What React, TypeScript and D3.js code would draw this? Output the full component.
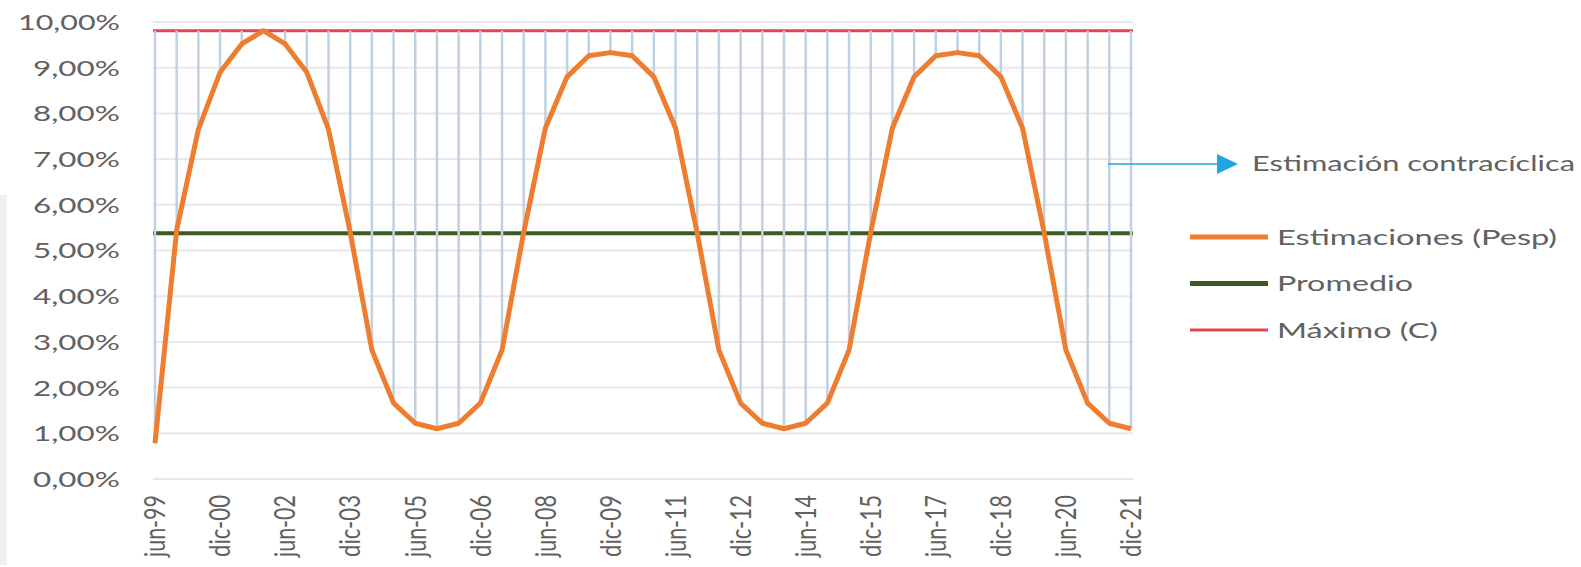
import React from 'react';
import * as d3 from 'd3';

// semestral periods, jun-99 .. dic-21
const periods = [
  'jun-99', 'dic-99', 'jun-00', 'dic-00', 'jun-01', 'dic-01', 'jun-02', 'dic-02',
  'jun-03', 'dic-03', 'jun-04', 'dic-04', 'jun-05', 'dic-05', 'jun-06', 'dic-06',
  'jun-07', 'dic-07', 'jun-08', 'dic-08', 'jun-09', 'dic-09', 'jun-10', 'dic-10',
  'jun-11', 'dic-11', 'jun-12', 'dic-12', 'jun-13', 'dic-13', 'jun-14', 'dic-14',
  'jun-15', 'dic-15', 'jun-16', 'dic-16', 'jun-17', 'dic-17', 'jun-18', 'dic-18',
  'jun-19', 'dic-19', 'jun-20', 'dic-20', 'jun-21', 'dic-21',
];

// Estimaciones (Pesp), in %
const estimaciones = [
  0.78, 5.45, 7.65, 8.9, 9.52, 9.81, 9.52, 8.9, 7.65, 5.4, 2.82, 1.66, 1.22, 1.1, 1.22, 1.66,
  2.82, 5.4, 7.68, 8.8, 9.26, 9.33, 9.26, 8.8, 7.68, 5.38, 2.82, 1.66, 1.22, 1.1, 1.22, 1.66,
  2.82, 5.4, 7.68, 8.8, 9.26, 9.33, 9.26, 8.8, 7.68, 5.38, 2.82, 1.66, 1.22, 1.1,
];

const promedio = 5.38;
const maximo = 9.81;

const xTickLabels = [
  'jun-99', 'dic-00', 'jun-02', 'dic-03', 'jun-05', 'dic-06', 'jun-08', 'dic-09',
  'jun-11', 'dic-12', 'jun-14', 'dic-15', 'jun-17', 'dic-18', 'jun-20', 'dic-21',
];
const yTicks = [0, 1, 2, 3, 4, 5, 6, 7, 8, 9, 10];

const legendItems = [
  { label: 'Estimaciones (Pesp)', color: '#ee7d2f', width: 5, len: 280 },
  { label: 'Promedio', color: '#3a5a1f', width: 5, len: 136 },
  { label: 'Máximo (C)', color: '#df4650', width: 3, len: 161 },
];

const W = 1581, H = 567;
const font = 'Lato, "Open Sans", sans-serif';
const textColor = '#616161';

export default function App() {
  const x = d3.scalePoint<string>().domain(periods).range([155, 1131]);
  const y = d3.scaleLinear().domain([0, 10]).range([479, 22]);
  const gridLeft = 153, gridRight = 1133;

  const line = d3.line<number>()
    .x((d, i) => x(periods[i]) as number)
    .y(d => y(d));

  const fmt = (v: number) => v.toFixed(2).replace('.', ',') + '%';

  return (
    <svg width={W} height={H} style={{ position: 'absolute', left: 0, top: 0, background: '#fff' }}>
      <rect x={0} y={195} width={7} height={370} fill="#f1f1f1" />

      {/* horizontal gridlines + y labels */}
      {yTicks.map(t => (
        <g key={t}>
          <line x1={gridLeft} x2={gridRight} y1={y(t)} y2={y(t)} stroke="#e8e8e8" strokeWidth={2} />
          <text x={120} y={y(t)} dy="0.36em" textAnchor="end" fontFamily={font} fontSize={22}
            fill={textColor} textLength={t === 10 ? 102 : 87} lengthAdjust="spacingAndGlyphs">
            {fmt(t)}
          </text>
        </g>
      ))}

      {/* max and average */}
      <line x1={gridLeft} x2={gridRight} y1={y(maximo)} y2={y(maximo)} stroke="#df4650" strokeWidth={3} />
      <line x1={gridLeft} x2={gridRight} y1={y(promedio)} y2={y(promedio)} stroke="#3a5a1f" strokeWidth={4} />

      {/* contracyclical gap: drop lines from max to estimate */}
      {estimaciones.map((v, i) => (
        <line key={i} x1={x(periods[i])} x2={x(periods[i])} y1={y(maximo)} y2={y(v)}
          stroke="#c2d1e1" strokeWidth={2.5} />
      ))}

      <path d={line(estimaciones) || ''} fill="none" stroke="#ee7d2f" strokeWidth={5}
        strokeLinejoin="round" />

      {/* x labels */}
      {xTickLabels.map(l => (
        <text key={l} transform={`translate(${x(l)},495) scale(1.3,1) rotate(-90)`}
          dy="0.36em" textAnchor="end" fontFamily={font} fontSize={22} fill={textColor}
          textLength={62} lengthAdjust="spacingAndGlyphs">
          {l}
        </text>
      ))}

      {/* annotation */}
      <line x1={1108} x2={1222} y1={164} y2={164} stroke="#1fa6e0" strokeWidth={1.5} />
      <path d="M1217,154 L1238,164 L1217,174 Z" fill="#1fa6e0" />
      <text x={1252} y={163} dy="0.36em" fontFamily={font} fontSize={21} fill={textColor}
        textLength={323} lengthAdjust="spacingAndGlyphs">
        Estimación contracíclica
      </text>

      {/* legend */}
      {legendItems.map((d, i) => {
        const ly = 237 + i * 46.5;
        return (
          <g key={d.label}>
            <line x1={1190} x2={1268} y1={ly} y2={ly} stroke={d.color} strokeWidth={d.width} />
            <text x={1277} y={ly} dy="0.36em" fontFamily={font} fontSize={22} fill={textColor}
              textLength={d.len} lengthAdjust="spacingAndGlyphs">
              {d.label}
            </text>
          </g>
        );
      })}
    </svg>
  );
}
